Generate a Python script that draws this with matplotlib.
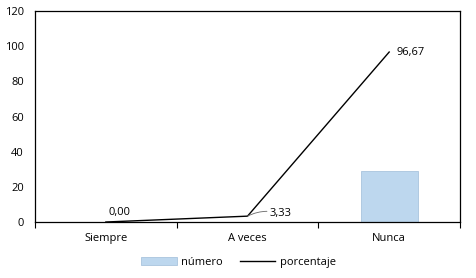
import matplotlib
matplotlib.use("Agg")
import matplotlib.pyplot as plt
import numpy as np

categories = ["Siempre", "A veces", "Nunca"]
numero = [0, 0, 29]
porcentaje = [0.00, 3.33, 96.67]
pct_labels = ["0,00", "3,33", "96,67"]
yticks = [0, 20, 40, 60, 80, 100, 120]

plt.rcParams["font.family"] = ["Open Sans", "DejaVu Sans"]
plt.rcParams["font.size"] = 8

fig = plt.figure(figsize=(4.77, 2.78), dpi=100)
ax = fig.add_axes([0.0734, 0.2014, 0.891, 0.759])

x = np.arange(len(categories))
bars = ax.bar(x, numero, width=0.4, color="#bdd7ee", edgecolor="#a9c4de", linewidth=0.6,
              label="número", zorder=2)
line, = ax.plot(x, porcentaje, color="black", lw=1.0, label="porcentaje", zorder=3)

# data labels
ax.annotate(pct_labels[0], (x[0], porcentaje[0]), xytext=(10, 3),
            textcoords="offset points", ha="center", va="bottom")
ax.annotate(pct_labels[1], (x[1], porcentaje[1]), xytext=(16, 2),
            textcoords="offset points", ha="left", va="center",
            arrowprops=dict(arrowstyle="-", color="0.4", lw=0.6,
                            shrinkA=0, shrinkB=0, connectionstyle="arc3,rad=0.2"))
ax.annotate(pct_labels[2], (x[2], porcentaje[2]), xytext=(5, 0),
            textcoords="offset points", ha="left", va="center")

ax.set_xlim(-0.5, 2.5)
ax.set_ylim(0, 120)
ax.set_yticks(yticks)
ax.set_xticks(x)
ax.set_xticklabels(categories)
ax.set_xticks([-0.5, 0.5, 1.5, 2.5], minor=True)
ax.tick_params(axis="x", which="major", length=0, pad=8)
ax.tick_params(axis="x", which="minor", length=4, width=0.8, direction="out")
ax.tick_params(axis="y", length=0, pad=8)
for s in ax.spines.values():
    s.set_linewidth(0.9)

fig.legend([bars, line], ["número", "porcentaje"], loc="lower center",
           bbox_to_anchor=(0.5, 0.0), ncol=2, frameon=False,
           handlelength=3.2, handleheight=0.8, columnspacing=1.5, handletextpad=0.4)

fig.savefig("out.png", dpi=100)
